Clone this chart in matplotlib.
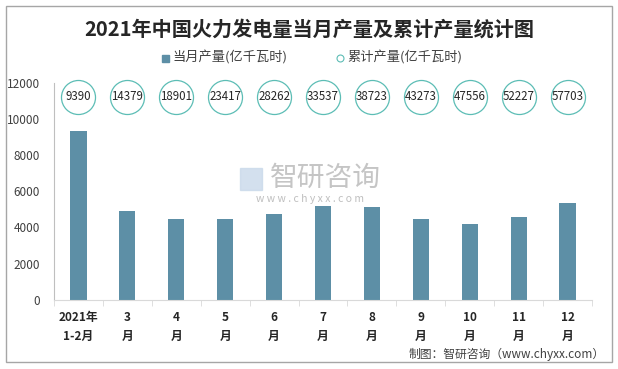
import matplotlib
matplotlib.use("Agg")
import matplotlib.pyplot as plt
from matplotlib.patches import Rectangle
import numpy as np

plt.rcParams['font.family'] = ['Noto Sans CJK SC', 'DejaVu Sans']

# data
months = ["2021年\n1-2月", "3\n月", "4\n月", "5\n月", "6\n月", "7\n月",
          "8\n月", "9\n月", "10\n月", "11\n月", "12\n月"]
monthly = [9300, 4900, 4460, 4460, 4740, 5170, 5120, 4460, 4180, 4570, 5340]
cumulative = [9390, 14379, 18901, 23417, 28262, 33537, 38723, 43273, 47556, 52227, 57703]

BAR = '#5d8fa6'
RING = '#5cbdb5'

W, H = 618, 369
fig = plt.figure(figsize=(W / 100, H / 100), dpi=100)

# outer frame
fig.patches.append(Rectangle((6 / W, 1 - 362 / H), 606 / W, 356 / H,
                             transform=fig.transFigure, fill=False,
                             edgecolor='#a6a6a6', linewidth=1))

ax = fig.add_axes([54 / W, 1 - 300 / H, 538 / W, (300 - 82.5) / H])
x = np.arange(len(months))

ax.bar(x, monthly, width=0.33, color=BAR, zorder=2)

# cumulative values shown as rings at top
y_ring = [11200] * len(cumulative)
ax.scatter(x, y_ring, s=600, facecolor='white', edgecolor=RING,
           linewidth=0.9, zorder=3, clip_on=False)
for xi, v in zip(x, cumulative):
    ax.text(xi, 11200, str(v), ha='center', va='center', fontsize=8.3,
            color='#262626', zorder=4)

ax.set_xlim(-0.5, len(months) - 0.5)
ax.set_ylim(0, 12000)
ax.set_yticks(range(0, 12001, 2000))
ax.tick_params(axis='y', length=0, labelsize=8.5, labelcolor='#404040', pad=10)
ax.set_xticks(x)
ax.set_xticklabels(months, fontsize=8.5, fontweight='bold', color='#262626',
                   linespacing=1.6)
ax.tick_params(axis='x', length=0, pad=8)
ax.set_xticks(np.arange(-0.5, len(months)), minor=True)
ax.tick_params(axis='x', which='minor', length=4, color='#d9d9d9')

for s in ['top', 'right']:
    ax.spines[s].set_visible(False)
ax.spines['left'].set_color('#bfbfbf')
ax.spines['bottom'].set_color('#d9d9d9')

# title and legend
fig.text(0.5, 1 - 29 / H, "2021年中国火力发电量当月产量及累计产量统计图",
         ha='center', va='center', fontsize=14.5, fontweight='bold',
         color='#262626')
fig.add_artist(Rectangle((162 / W, 1 - 62 / H), 7 / W, 7 / H,
                         transform=fig.transFigure, color=BAR))
fig.text(172 / W, 1 - 58 / H, "当月产量(亿千瓦时)", ha='left', va='center',
         fontsize=9.5, color='#404040')
fig.add_artist(plt.Line2D([340 / W], [1 - 58 / H], marker='o', markersize=5,
                          markerfacecolor='white', markeredgecolor=RING,
                          markeredgewidth=0.8, transform=fig.transFigure))
fig.text(347 / W, 1 - 58 / H, "累计产量(亿千瓦时)", ha='left', va='center',
         fontsize=9.5, color='#404040')

# watermark
fig.text(325 / W, 1 - 178 / H, "智研咨询", ha='center', va='center',
         fontsize=20, color='#bfbfbf', alpha=0.9, zorder=5)
fig.text(310 / W, 1 - 199 / H, "w w w . c h y x x . c o m", ha='center',
         va='center', fontsize=7.5, color='#bfbfbf', zorder=5)
fig.add_artist(Rectangle((240 / W, 1 - 190 / H), 22 / W, 22 / H,
                         transform=fig.transFigure, color='#c9d9ea', alpha=0.8))

# source note
fig.text(605 / W, 1 - 354 / H, "制图：智研咨询（www.chyxx.com）", ha='right',
         va='center', fontsize=8.5, color='#404040')

fig.savefig("out.png", dpi=100, facecolor='white')
